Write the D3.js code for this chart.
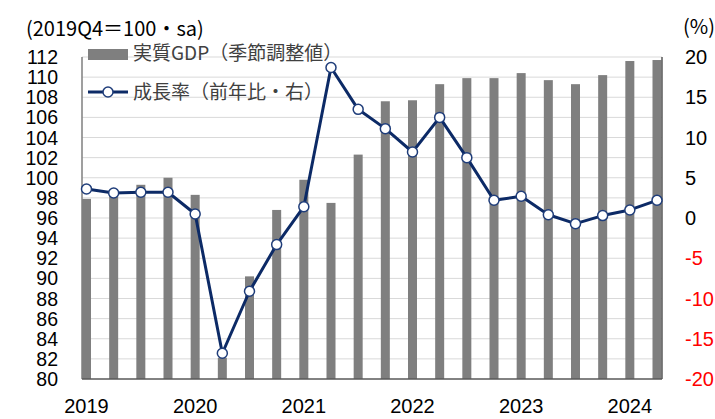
<!DOCTYPE html>
<html>
<head>
<meta charset="utf-8">
<script src="https://cdn.jsdelivr.net/npm/d3@7"></script>
<style>
  body { margin: 0; background: #fff; }
  text { font-family: "Noto Sans CJK JP", "Noto Sans", sans-serif; }
  text.num { font-family: "Liberation Sans", Arial, sans-serif; }
</style>
</head>
<body>
<svg id="chart" width="715" height="419"></svg>
<script>
// quarters 2019Q1 - 2024Q2
var quarters = ["2019Q1","2019Q2","2019Q3","2019Q4","2020Q1","2020Q2","2020Q3","2020Q4",
  "2021Q1","2021Q2","2021Q3","2021Q4","2022Q1","2022Q2","2022Q3","2022Q4",
  "2023Q1","2023Q2","2023Q3","2023Q4","2024Q1","2024Q2"];
// real GDP, seasonally adjusted (2019Q4 = 100)
var gdpLevel = [97.9, 98.5, 99.3, 100.0, 98.3, 82.1, 90.2, 96.8,
  99.8, 97.5, 102.3, 107.6, 107.7, 109.3, 109.9, 109.9,
  110.4, 109.7, 109.3, 110.2, 111.6, 111.7];
// growth rate, year on year (%)
var growthYoY = [3.6, 3.1, 3.2, 3.2, 0.5, -16.8, -9.1, -3.3,
  1.4, 18.7, 13.5, 11.1, 8.2, 12.5, 7.5, 2.2,
  2.7, 0.4, -0.7, 0.3, 1.0, 2.2];
var yearLabels = ["2019","2020","2021","2022","2023","2024"];
var leftTicks = d3.range(80, 113, 2);
var rightTicks = [20, 15, 10, 5, 0, -5, -10, -15, -20];

var svg = d3.select("#chart");
var plotLeft = 82, plotRight = 662, plotTop = 57, plotBottom = 379;

var x = d3.scalePoint().domain(quarters).range([86.5, 657]);
var yL = d3.scaleLinear().domain([80, 112]).range([plotBottom, plotTop]);
var yR = d3.scaleLinear().domain([-20, 20]).range([plotBottom, plotTop]);

// gridlines
svg.append("g").selectAll("line")
  .data(leftTicks.filter(function(d){ return d > 80; }))
  .enter().append("line")
  .attr("x1", plotLeft).attr("x2", plotRight)
  .attr("y1", function(d){ return yL(d); })
  .attr("y2", function(d){ return yL(d); })
  .attr("stroke", "#d9d9d9").attr("stroke-width", 1);

// bars
var barW = 9;
svg.append("g").selectAll("rect")
  .data(gdpLevel)
  .enter().append("rect")
  .attr("x", function(d, i){ return x(quarters[i]) - barW / 2; })
  .attr("y", function(d){ return yL(d); })
  .attr("width", barW)
  .attr("height", function(d){ return plotBottom - yL(d); })
  .attr("fill", "#7f7f7f");

// axis frame lines
svg.append("line").attr("x1", plotLeft).attr("x2", plotLeft).attr("y1", plotTop).attr("y2", plotBottom)
  .attr("stroke", "#7f7f7f").attr("stroke-width", 1.5);
svg.append("line").attr("x1", plotRight).attr("x2", plotRight).attr("y1", plotTop).attr("y2", plotBottom)
  .attr("stroke", "#595959").attr("stroke-width", 1.5);
svg.append("line").attr("x1", plotLeft).attr("x2", plotRight).attr("y1", plotBottom).attr("y2", plotBottom)
  .attr("stroke", "#595959").attr("stroke-width", 1.5);

// growth line
var line = d3.line()
  .x(function(d, i){ return x(quarters[i]); })
  .y(function(d){ return yR(d); });
svg.append("path")
  .datum(growthYoY)
  .attr("d", line)
  .attr("fill", "none")
  .attr("stroke", "#0c2a66")
  .attr("stroke-width", 3)
  .attr("stroke-linejoin", "round");
svg.append("g").selectAll("circle")
  .data(growthYoY)
  .enter().append("circle")
  .attr("cx", function(d, i){ return x(quarters[i]); })
  .attr("cy", function(d){ return yR(d); })
  .attr("r", 5)
  .attr("fill", "#fff")
  .attr("stroke", "#1f3d7a")
  .attr("stroke-width", 1.5);

// left tick labels
svg.append("g").selectAll("text")
  .data(leftTicks)
  .enter().append("text")
  .attr("class", "num")
  .attr("x", 58)
  .attr("y", function(d){ return yL(d); })
  .attr("dy", "0.36em")
  .attr("text-anchor", "end")
  .attr("font-size", 19.5)
  .attr("fill", "#000")
  .text(function(d){ return d; });

// right tick labels
svg.append("g").selectAll("text")
  .data(rightTicks)
  .enter().append("text")
  .attr("class", "num")
  .attr("x", 685)
  .attr("y", function(d){ return yR(d); })
  .attr("dy", "0.36em")
  .attr("font-size", 20)
  .attr("fill", function(d){ return d < 0 ? "#ff0000" : "#000"; })
  .text(function(d){ return d; });

// year labels
svg.append("g").selectAll("text")
  .data(yearLabels)
  .enter().append("text")
  .attr("class", "num")
  .attr("x", function(d){ return x(d + "Q1"); })
  .attr("y", 406)
  .attr("dy", "0.36em")
  .attr("text-anchor", "middle")
  .attr("font-size", 20)
  .attr("fill", "#000")
  .text(function(d){ return d; });

// axis titles
svg.append("text").attr("x", 26).attr("y", 29).attr("dy", "0.36em")
  .attr("font-size", 20).text("(2019Q4＝100・sa)");
svg.append("text").attr("x", 683).attr("y", 27).attr("dy", "0.36em")
  .attr("font-size", 20).text("(%)");

// legend
svg.append("rect").attr("x", 88).attr("y", 49).attr("width", 40).attr("height", 11)
  .attr("fill", "#7f7f7f");
svg.append("text").attr("x", 133).attr("y", 53).attr("dy", "0.36em")
  .attr("font-size", 19).attr("fill", "#404040").text("実質GDP（季節調整値）");
svg.append("line").attr("x1", 88).attr("x2", 128).attr("y1", 92).attr("y2", 92)
  .attr("stroke", "#0c2a66").attr("stroke-width", 3);
svg.append("circle").attr("cx", 108).attr("cy", 92).attr("r", 5)
  .attr("fill", "#fff").attr("stroke", "#1f3d7a").attr("stroke-width", 1.5);
svg.append("text").attr("x", 133).attr("y", 92).attr("dy", "0.36em")
  .attr("font-size", 19).attr("fill", "#404040").text("成長率（前年比・右）");
</script>
</body>
</html>
